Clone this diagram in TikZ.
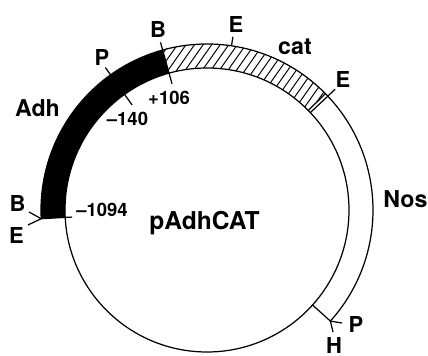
\documentclass[tikz,border=0pt]{standalone}
\usepackage{fontspec}
\setmainfont{TeX Gyre Heros}

\begin{document}
\begin{tikzpicture}[scale=0.02,
  ring/.style={line width=0.7pt},
  tick/.style={line width=0.7pt},
  hatch/.style={line width=0.55pt},
  site/.style={font=\bfseries\fontsize{12.5}{14}\selectfont, inner sep=0pt},
  gene/.style={font=\bfseries\fontsize{13.2}{15}\selectfont, inner sep=0pt, anchor=base},
  coordlabel/.style={font=\bfseries\fontsize{10.5}{12}\selectfont, inner sep=0pt}]
\useasboundingbox (0,0) rectangle (428,356);

\begin{scope}[shift={(207,146)}]
  % Adh promoter fragment (solid)
  \fill (105.5:166) arc[start angle=105.5, end angle=183, radius=166]
        -- (183:142) arc[start angle=183, end angle=105.5, radius=142] -- cycle;

  % cat coding region (hatched)
  \begin{scope}
    \clip (44.5:166) arc[start angle=44.5, end angle=105.5, radius=166]
          -- (105.5:142) arc[start angle=105.5, end angle=44.5, radius=142] -- cycle;
    \foreach \i in {-8,...,22}
      \draw[hatch] ({\i*7*cos(145)-300*cos(55)}, {\i*7*sin(145)-300*sin(55)})
                -- ({\i*7*cos(145)+300*cos(55)}, {\i*7*sin(145)+300*sin(55)});
  \end{scope}

  % vector backbone and outer edge of the insert
  \draw[ring] (0,0) circle[radius=142];
  \draw[ring] (-42:166) arc[start angle=-42, end angle=183, radius=166];

  % restriction sites and boundaries
  \draw[tick] (105.5:131) -- (105.5:174);
  \draw[tick] (125.5:166) -- (125.5:175);
  \draw[tick] (125.5:129) -- (125.5:142);
  \draw[tick] (81.5:166) -- (81.5:175);
  \draw[tick] (44.5:142) -- (44.5:166);
  \draw[tick] (43.3:142) -- (43.3:176);
  \draw[tick] (183:135) -- (183:166);
  \draw[tick] (-42:142) -- (-42:166);

  % forked ends
  \coordinate (lend) at (183:166);
  \coordinate (rend) at (-42:166);
  \draw[tick] (-178,-2) -- (lend) -- (-179,-15);
  \draw[tick] (135,-113) -- (rend) -- (126,-122);
\end{scope}

% site labels
\node[site] (bt) at (158,327) {B};
\node[site] (pt) at (102,299) {P};
\node[site] (et) at (236,332) {E};
\node[site] (er) at (343,277) {E};
\node[site] (bl) at (17.5,152.5) {B};
\node[site] (el) at (16.5,121) {E};
\node[site] (pr) at (356,32) {P};
\node[site] (hr) at (334,11) {H};

% region labels
\node[gene] (adh) at (37.5,239) {Adh};
\node[gene] (cat) at (295,301) {cat};
\node[gene] (nos) at (405.5,148) {Nos};
\node[gene, font=\bfseries\fontsize{14}{16}\selectfont] (name) at (204.5,126) {pAdhCAT};

% map coordinates
\node[coordlabel] (p106) at (169,258) {+106};
\node[coordlabel] (p140) at (127.5,237) {–140};
\node[coordlabel] (p1094) at (102,146) {–1094};
\end{tikzpicture}
\end{document}
